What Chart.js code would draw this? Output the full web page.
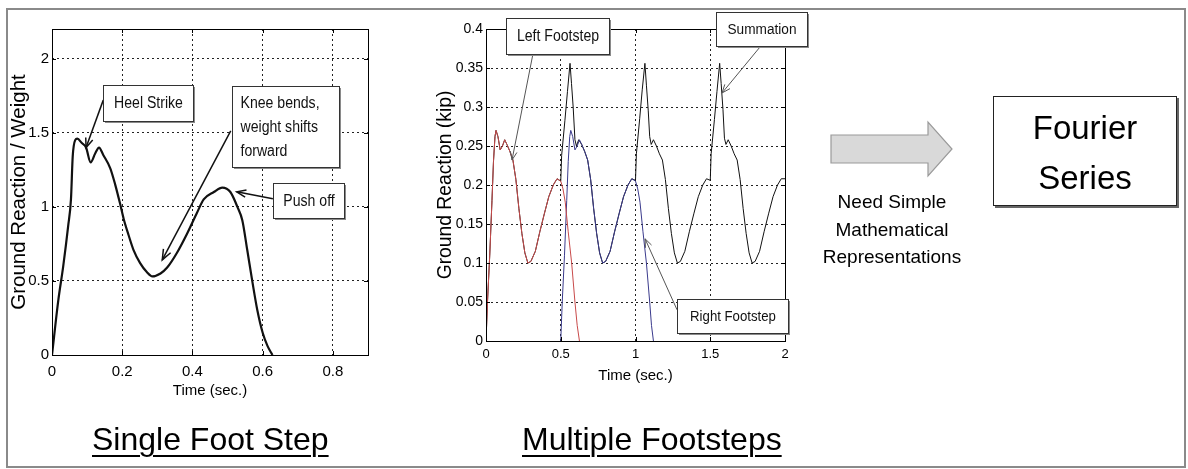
<!DOCTYPE html>
<html><head><meta charset="utf-8">
<script src="https://cdn.jsdelivr.net/npm/chart.js@4.4.0/dist/chart.umd.min.js"></script>
<style>
html,body{margin:0;padding:0;background:#fff;}
#wrap{position:relative;width:1188px;height:469px;overflow:hidden;font-family:'Liberation Sans',Arial,sans-serif;color:#000;}
#frame{position:absolute;left:6px;top:8px;width:1176px;height:456px;border:2px solid #8a8a8a;}
canvas{position:absolute;}
.ttl{position:absolute;font-size:32px;line-height:32px;white-space:nowrap;text-decoration:underline;text-decoration-thickness:2px;text-underline-offset:5px;}
#need{position:absolute;left:792px;top:188px;width:200px;text-align:center;font-size:19px;line-height:27.5px;}
#fbox{position:absolute;left:993px;top:96px;width:184px;height:110px;box-sizing:border-box;border:1px solid #222;box-shadow:2px 2px 0 #666;text-align:center;font-size:33px;line-height:50px;padding-top:6px;background:#fff;}
svg{position:absolute;left:0;top:0;}
</style></head>
<body><div id="wrap">
<div id="frame"></div>
<canvas id="c1" width="400" height="410" style="left:0;top:0;"></canvas>
<canvas id="c2" width="400" height="400" style="left:420px;top:0;"></canvas>
<svg width="1188" height="469"><polygon points="831,135 928,135 928,122 952,149 928,176 928,163 831,163" fill="#d9d9d9" stroke="#9a9a9a" stroke-width="1.2"/></svg>
<div id="need">Need Simple<br>Mathematical<br>Representations</div>
<div id="fbox">Fourier<br>Series</div>
<div class="ttl" style="left:92px;top:423px;">Single Foot Step</div>
<div class="ttl" style="left:522px;top:423px;">Multiple Footsteps</div>
</div>
<script>
// ---------- Single foot step (left panel) ----------
const singleTime  = [0, 0.018, 0.032, 0.046, 0.054, 0.059, 0.066, 0.072, 0.085, 0.097, 0.11, 0.123, 0.134, 0.146, 0.166, 0.18, 0.194, 0.204, 0.218, 0.232, 0.251, 0.27, 0.286, 0.309, 0.328, 0.356, 0.385, 0.413, 0.432, 0.461, 0.485, 0.508, 0.528, 0.542, 0.556, 0.571, 0.585, 0.6, 0.614, 0.628];
const singleForce = [0, 0.37, 0.6, 0.87, 1.05, 1.34, 1.45, 1.46, 1.43, 1.40, 1.30, 1.36, 1.40, 1.35, 1.26, 1.15, 1.02, 0.92, 0.81, 0.71, 0.62, 0.56, 0.53, 0.55, 0.59, 0.69, 0.82, 0.96, 1.05, 1.10, 1.13, 1.10, 1.0, 0.91, 0.71, 0.49, 0.30, 0.15, 0.06, 0];
const singleXTicks = [0, 0.2, 0.4, 0.6, 0.8];
const singleYTicks = [0, 0.5, 1, 1.5, 2];

// ---------- Multiple footsteps (middle panel) ----------
const leftTime  = [0, 0.01, 0.025, 0.04, 0.05, 0.06, 0.067, 0.08, 0.095, 0.11, 0.125, 0.14, 0.16, 0.18, 0.2, 0.22, 0.24, 0.26, 0.28, 0.3, 0.33, 0.36, 0.39, 0.42, 0.45, 0.475, 0.5, 0.515, 0.53, 0.55, 0.573, 0.595, 0.61, 0.625];
const leftForce = [0, 0.05, 0.11, 0.18, 0.23, 0.262, 0.27, 0.262, 0.245, 0.25, 0.258, 0.252, 0.243, 0.232, 0.207, 0.17, 0.138, 0.113, 0.1, 0.102, 0.115, 0.14, 0.163, 0.185, 0.2, 0.208, 0.205, 0.195, 0.178, 0.14, 0.1, 0.05, 0.02, 0];
const rightTime  = [0.5, 0.51, 0.525, 0.54, 0.55, 0.56, 0.567, 0.58, 0.595, 0.61, 0.625, 0.64, 0.66, 0.68, 0.7, 0.72, 0.74, 0.76, 0.78, 0.8, 0.83, 0.86, 0.89, 0.92, 0.95, 0.975, 1.0, 1.015, 1.03, 1.05, 1.073, 1.095, 1.107, 1.12];
const rightForce = [0, 0.05, 0.11, 0.18, 0.23, 0.262, 0.27, 0.262, 0.245, 0.25, 0.258, 0.252, 0.243, 0.232, 0.207, 0.17, 0.138, 0.113, 0.1, 0.102, 0.115, 0.14, 0.163, 0.185, 0.2, 0.208, 0.205, 0.195, 0.178, 0.14, 0.1, 0.05, 0.02, 0];
const sumTime = [0, 0.01, 0.025, 0.04, 0.05, 0.06, 0.067, 0.08, 0.095, 0.11, 0.125, 0.14, 0.16, 0.18, 0.2, 0.22, 0.24, 0.26, 0.28, 0.3, 0.33, 0.36, 0.39, 0.42, 0.45, 0.475,
  0.5, 0.506, 0.528, 0.545, 0.562, 0.572, 0.583, 0.595, 0.605, 0.62, 0.64, 0.66, 0.68, 0.7, 0.72, 0.74, 0.76, 0.78, 0.8, 0.83, 0.86, 0.89, 0.92, 0.95, 0.975,
  1.0, 1.006, 1.028, 1.045, 1.063, 1.073, 1.085, 1.095, 1.105, 1.12, 1.14, 1.16, 1.18, 1.2, 1.22, 1.24, 1.26, 1.28, 1.3, 1.33, 1.36, 1.39, 1.42, 1.45, 1.475,
  1.5, 1.506, 1.528, 1.545, 1.563, 1.573, 1.585, 1.595, 1.605, 1.62, 1.64, 1.66, 1.68, 1.7, 1.72, 1.74, 1.76, 1.78, 1.8, 1.83, 1.86, 1.89, 1.92, 1.95, 1.975, 2.0];
const sumForce = [0, 0.05, 0.11, 0.18, 0.23, 0.262, 0.27, 0.262, 0.245, 0.25, 0.258, 0.252, 0.243, 0.232, 0.207, 0.17, 0.138, 0.113, 0.1, 0.102, 0.115, 0.14, 0.163, 0.185, 0.2, 0.208,
  0.205, 0.238, 0.283, 0.32, 0.356, 0.33, 0.3, 0.258, 0.25, 0.258, 0.252, 0.243, 0.232, 0.207, 0.17, 0.138, 0.113, 0.1, 0.102, 0.115, 0.14, 0.163, 0.185, 0.2, 0.208,
  0.206, 0.24, 0.285, 0.322, 0.356, 0.328, 0.296, 0.262, 0.252, 0.258, 0.25, 0.24, 0.232, 0.207, 0.17, 0.138, 0.113, 0.1, 0.102, 0.115, 0.14, 0.163, 0.185, 0.2, 0.208,
  0.206, 0.24, 0.284, 0.32, 0.356, 0.33, 0.297, 0.26, 0.252, 0.258, 0.25, 0.24, 0.232, 0.207, 0.17, 0.138, 0.113, 0.1, 0.102, 0.115, 0.14, 0.163, 0.185, 0.2, 0.208, 0.208];
const multiXTicks = [0, 0.5, 1, 1.5, 2];
const multiYTicks = [0, 0.05, 0.1, 0.15, 0.2, 0.25, 0.3, 0.35, 0.4];

const FONT = "'Liberation Sans', Arial, Helvetica, sans-serif";
Chart.defaults.font.family = FONT;
Chart.defaults.color = '#000';

const fmt = v => String(Math.round(v * 100) / 100);
const pts = (xs, ys) => xs.map((x, i) => ({x, y: ys[i]}));

function drawArrow(ctx, x1, y1, x2, y2, color, width, head) {
  ctx.strokeStyle = color; ctx.lineWidth = width; ctx.setLineDash([]);
  ctx.beginPath(); ctx.moveTo(x1, y1); ctx.lineTo(x2, y2); ctx.stroke();
  const a = Math.atan2(y2 - y1, x2 - x1), sp = 0.38;
  ctx.beginPath();
  ctx.moveTo(x2 - head * Math.cos(a - sp), y2 - head * Math.sin(a - sp));
  ctx.lineTo(x2, y2);
  ctx.lineTo(x2 - head * Math.cos(a + sp), y2 - head * Math.sin(a + sp));
  ctx.stroke();
}

const figPlugin = {
  id: 'fig',
  afterDatasetsDraw(chart) {
    const {ctx, chartArea: a, scales} = chart;
    ctx.save();
    ctx.strokeStyle = '#000'; ctx.lineWidth = 1; ctx.setLineDash([]);
    ctx.strokeRect(a.left + 0.5, a.top + 0.5, a.right - a.left, a.bottom - a.top);
    const tl = 4;
    ctx.beginPath();
    scales.x.ticks.forEach(t => {
      const p = Math.round(scales.x.getPixelForValue(t.value)) + 0.5;
      ctx.moveTo(p, a.bottom); ctx.lineTo(p, a.bottom - tl);
      ctx.moveTo(p, a.top); ctx.lineTo(p, a.top + tl);
    });
    scales.y.ticks.forEach(t => {
      const p = Math.round(scales.y.getPixelForValue(t.value)) + 0.5;
      ctx.moveTo(a.left, p); ctx.lineTo(a.left + tl, p);
      ctx.moveTo(a.right, p); ctx.lineTo(a.right - tl, p);
    });
    ctx.stroke();
    ctx.restore();
  },
  afterDraw(chart, args, opts) {
    const {ctx, scales} = chart;
    const X = v => scales.x.getPixelForValue(v), Y = v => scales.y.getPixelForValue(v);
    ctx.save();
    (opts.arrows || []).forEach(r => {
      drawArrow(ctx, X(r.from[0]), Y(r.from[1]), X(r.to[0]), Y(r.to[1]), r.color, r.width, r.head);
    });
    (opts.boxes || []).forEach(b => {
      const x1 = Math.round(X(b.x1)) + 0.5, x2 = Math.round(X(b.x2)) + 0.5;
      const y1 = Math.round(Y(b.y1)) + 0.5, y2 = Math.round(Y(b.y2)) + 0.5;
      ctx.fillStyle = '#8a8a8a';
      ctx.fillRect(x1 + 1.5, y1 + 1.5, x2 - x1, y2 - y1);
      ctx.fillStyle = '#fff';
      ctx.fillRect(x1, y1, x2 - x1, y2 - y1);
      ctx.strokeStyle = '#333'; ctx.lineWidth = 1; ctx.setLineDash([]);
      ctx.strokeRect(x1, y1, x2 - x1, y2 - y1);
      ctx.fillStyle = '#111';
      ctx.font = b.size + 'px ' + FONT;
      ctx.textBaseline = 'middle';
      const lh = b.lh || b.size * 1.2;
      const cy = (y1 + y2) / 2 - (b.lines.length - 1) * lh / 2 + 0.5;
      const sx = 0.88;
      b.lines.forEach((s, i) => {
        ctx.save();
        if (b.align === 'left') { ctx.textAlign = 'left'; ctx.translate(x1 + b.pad, cy + i * lh); }
        else { ctx.textAlign = 'center'; ctx.translate((x1 + x2) / 2, cy + i * lh); }
        ctx.scale(sx, 1);
        ctx.fillText(s, 0, 0);
        ctx.restore();
      });
    });
    ctx.restore();
  }
};

function axes(o) {
  return {
    x: {
      type: 'linear', min: o.xmin, max: o.xmax,
      afterBuildTicks: s => { s.ticks = o.xt.map(v => ({value: v})); },
      afterFit: s => { s.height = o.xh; },
      ticks: {font: {size: o.xfs}, padding: o.xpad, maxRotation: 0, autoSkip: false, callback: fmt},
      grid: {color: '#222', lineWidth: 1, drawTicks: false},
      border: {display: false, dash: [2, 3]},
      title: {display: true, text: 'Time (sec.)', font: {size: 15}, padding: {top: 0, bottom: o.xtp}}
    },
    y: {
      type: 'linear', min: o.ymin, max: o.ymax,
      afterBuildTicks: s => { s.ticks = o.yt.map(v => ({value: v})); },
      afterFit: s => { s.width = o.yw; },
      ticks: {font: {size: o.yfs}, padding: 3, autoSkip: false, callback: fmt},
      grid: {color: '#222', lineWidth: 1, drawTicks: false},
      border: {display: false, dash: [2, 3]},
      title: {display: true, text: o.ytitle, font: {size: o.ytfs}, padding: {top: o.ytp, bottom: 0}}
    }
  };
}

new Chart(document.getElementById('c1'), {
  type: 'scatter',
  data: {datasets: [{data: pts(singleTime, singleForce), showLine: true, borderColor: '#111', borderWidth: 2.2, pointRadius: 0, cubicInterpolationMode: 'monotone'}]},
  options: {
    responsive: false, animation: false, devicePixelRatio: 1,
    layout: {padding: {left: 0, top: 29, right: 32, bottom: 0}},
    plugins: {
      legend: {display: false}, tooltip: {enabled: false},
      fig: {
        boxes: [
          {x1: 0.146, x2: 0.403, y1: 1.824, y2: 1.581, lines: ['Heel Strike'], size: 16},
          {x1: 0.514, x2: 0.817, y1: 1.818, y2: 1.270, lines: ['Knee bends,', 'weight shifts', 'forward'], size: 16, lh: 24, align: 'left', pad: 8},
          {x1: 0.629, x2: 0.831, y1: 1.162, y2: 0.926, lines: ['Push off'], size: 16}
        ],
        arrows: [
          {from: [0.146, 1.72], to: [0.097, 1.40], color: '#111', width: 1.5, head: 10},
          {from: [0.509, 1.512], to: [0.314, 0.642], color: '#111', width: 1.5, head: 11},
          {from: [0.629, 1.055], to: [0.526, 1.101], color: '#111', width: 1.5, head: 10}
        ]
      }
    },
    scales: axes({xmin: 0, xmax: 0.9, ymin: 0, ymax: 2.2, xt: singleXTicks, yt: singleYTicks, xh: 55, yw: 52, xfs: 15, yfs: 15, xpad: 8, xtp: 10, ytitle: 'Ground Reaction / Weight', ytfs: 20.5, ytp: 7})
  },
  plugins: [figPlugin]
});

new Chart(document.getElementById('c2'), {
  type: 'scatter',
  data: {datasets: [
    {data: pts(leftTime, leftForce), showLine: true, borderColor: '#c84a4a', borderWidth: 1, pointRadius: 0},
    {data: pts(rightTime, rightForce), showLine: true, borderColor: '#3a3a8c', borderWidth: 1, pointRadius: 0},
    {data: pts(sumTime, sumForce), showLine: true, borderColor: '#111', borderWidth: 1, pointRadius: 0}
  ]},
  options: {
    responsive: false, animation: false, devicePixelRatio: 1,
    layout: {padding: {left: 0, top: 29, right: 35, bottom: 0}},
    plugins: {
      legend: {display: false}, tooltip: {enabled: false},
      fig: {
        boxes: [
          {x1: 0.134, x2: 0.823, y1: 0.414, y2: 0.368, lines: ['Left Footstep'], size: 16},
          {x1: 1.538, x2: 2.147, y1: 0.422, y2: 0.378, lines: ['Summation'], size: 15.5},
          {x1: 1.278, x2: 2.02, y1: 0.054, y2: 0.010, lines: ['Right Footstep'], size: 15}
        ],
        arrows: [
          {from: [0.314, 0.368], to: [0.174, 0.232], color: '#555', width: 1, head: 9},
          {from: [1.833, 0.377], to: [1.579, 0.318], color: '#555', width: 1, head: 9},
          {from: [1.278, 0.040], to: [1.064, 0.131], color: '#555', width: 1, head: 9}
        ]
      }
    },
    scales: axes({xmin: 0, xmax: 2, ymin: 0, ymax: 0.4, xt: multiXTicks, yt: multiYTicks, xh: 59, yw: 66, xfs: 13, yfs: 14, xpad: 6, xtp: 15, ytitle: 'Ground Reaction (kip)', ytfs: 19.3, ytp: 14})
  },
  plugins: [figPlugin]
});
</script>
</body></html>
